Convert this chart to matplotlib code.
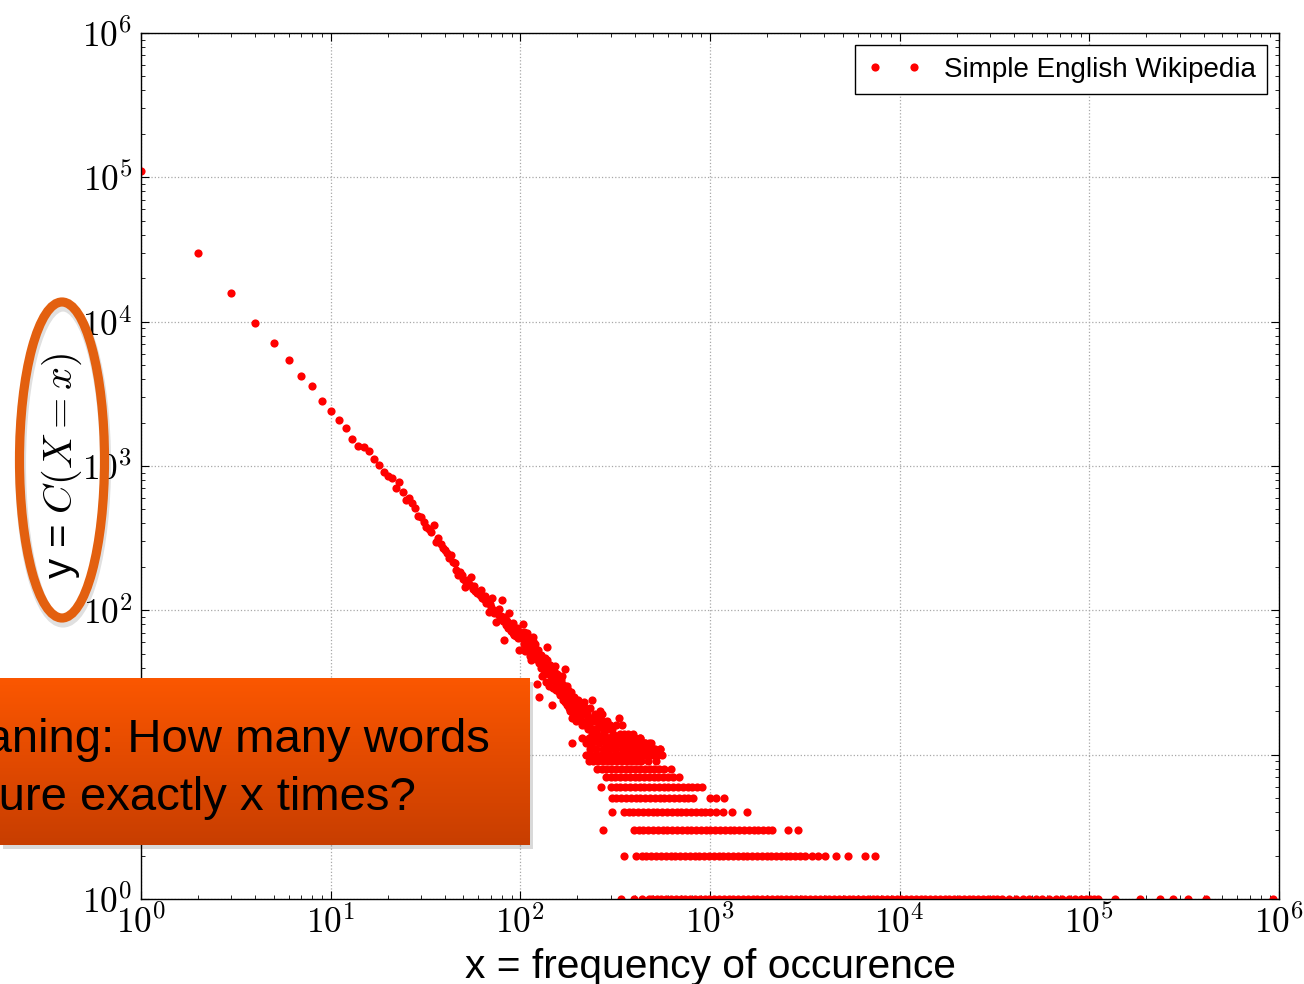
import numpy as np
import matplotlib
matplotlib.use('Agg')
import matplotlib.pyplot as plt
from matplotlib.patches import Ellipse, Rectangle
from matplotlib.ticker import FuncFormatter, LogLocator, NullFormatter
from matplotlib.colors import LinearSegmentedColormap

plt.rcParams['mathtext.fontset'] = 'cm'
plt.rcParams['font.family'] = ['Liberation Sans', 'DejaVu Sans']

# ---------------- data ----------------
# head: every x from 1 to 100, y = number of words occurring exactly x times
x_head = list(range(1, 101))
y_head = [110600, 30100, 15700, 9840, 7080, 5450, 4180, 3560, 2840, 2405,
          2096, 1845, 1540, 1370, 1350, 1265, 1113, 1010, 914, 853,
          822, 700, 779, 661, 581, 603, 557, 509, 453, 442,
          411, 380, 366, 347, 388, 299, 318, 290, 270, 262,
          248, 231, 240, 215, 212, 190, 177, 183, 176, 166,
          146, 158, 162, 150, 171, 141, 148, 137, 131, 135,
          128, 138, 122, 119, 126, 112, 117, 98, 111, 106,
          121, 101, 96, 83, 99, 94, 102, 88, 91, 118,
          85, 62, 90, 79, 84, 76, 96, 81, 72, 78,
          70, 82, 68, 73, 66, 75, 64, 53, 69, 71]

x_mid = list(range(101, 201))
y_mid = [64, 66, 80, 58, 71, 52, 55, 63, 70, 60,
         58, 48, 57, 45, 52, 65, 61, 49, 58, 54,
         46, 31, 50, 53, 43, 25, 47, 40, 49, 35,
         40, 44, 36, 41, 47, 38, 32, 56, 45, 39,
         30, 36, 38, 42, 35, 33, 22, 37, 29, 34,
         38, 33, 41, 28, 30, 36, 31, 35, 27, 29,
         32, 26, 33, 29, 35, 31, 24, 30, 27, 27,
         23, 30, 39, 28, 26, 22, 30, 28, 25, 21,
         24, 26, 20, 27, 23, 25, 12, 18, 21, 19,
         25, 22, 18, 24, 23, 20, 17, 21, 22, 19]

x_tail = [202, 204, 206, 208, 210, 212, 214, 216, 218, 220, 222, 224, 226, 228,
          231, 233, 235, 238, 240, 242, 245, 248, 250, 251, 255, 258, 260, 263,
          266, 270, 271, 274, 277, 280, 283, 286, 289, 292, 295, 298, 301, 305,
          308, 312, 315, 318, 322, 326, 330, 334, 338, 343, 346, 350, 355, 360,
          364, 368, 373, 375, 383, 388, 393, 398, 404, 410, 415, 421, 427, 437,
          440, 446, 452, 466, 478, 505, 548]
y_tail = [24, 18, 20, 17, 22, 16, 19, 23, 21, 16, 17, 20, 19, 15,
          16, 21, 18, 14, 24, 17, 15, 19, 17, 15, 14, 18, 16, 20,
          13, 19, 17, 15, 14, 16, 12, 17, 15, 13, 13, 16, 12, 15,
          14, 12, 11, 16, 13, 12, 18, 14, 12, 16, 11, 14, 13, 12,
          11, 14, 12, 13, 11, 13, 14, 12, 12, 11, 11, 12, 13, 11,
          11, 12, 12, 11, 12, 11, 11]

# bands: for small counts, the x values that have exactly that count
band_counts = [1, 2, 3, 4, 5, 6, 7, 8, 9, 10, 11, 12, 13]
band_x_1 = [339, 396, 436, 476, 493, 523, 554, 587, 622, 660, 700, 742, 786, 833,
            883, 936, 992, 1052, 1115, 1182, 1253, 1328, 1408, 1492, 1582, 1677,
            1777, 1884, 1997, 2117, 2244, 2378, 2521, 2672, 2833, 3003, 3183,
            3374, 3576, 3791, 4018, 4259, 4515, 4786, 5073, 5377, 5700, 6042,
            6404, 6789, 7196, 7628, 8085, 8570, 9085, 9630, 10208, 10820, 11469,
            12157, 12887, 13660, 14480, 15348, 16269, 17245, 18280, 19377,
            20540, 21772, 23078, 24463, 25931, 27487, 29136, 30884, 32737,
            34700, 37800, 41000, 44500, 48000, 52500, 56000, 61000, 67000,
            72000, 78000, 84000, 90000, 96000, 101000, 106000, 111000,
            137000, 185000, 236000, 276000, 331000, 412000, 927000]
band_x_2 = [351, 405, 436, 461, 490, 518, 551, 583, 620, 656, 697, 738, 782, 830,
            879, 932, 988, 1047, 1110, 1176, 1247, 1321, 1401, 1484, 1574, 1667,
            1768, 1873, 1986, 2104, 2231, 2364, 2506, 2656, 2816, 2984, 3163,
            3430, 3730, 4060, 4590, 5370, 6600, 7450]
band_x_3 = [272, 396, 420, 445, 472, 500, 530, 562, 596, 631, 669, 709, 752, 797,
            845, 895, 949, 1006, 1066, 1130, 1198, 1270, 1346, 1427, 1512, 1603,
            1699, 1801, 1909, 2023, 2110, 2590, 2920]
band_x_4 = [303, 351, 372, 395, 418, 443, 470, 498, 528, 560, 593, 629, 667, 707,
            749, 794, 842, 892, 946, 1003, 1070, 1170, 1310, 1560]
band_x_5 = [303, 321, 340, 361, 382, 405, 430, 455, 483, 512, 542, 575, 609, 646,
            685, 726, 770, 818, 995, 1070, 1190]
band_x_6 = [266, 300, 318, 337, 357, 379, 401, 426, 451, 478, 507, 537, 569, 604,
            640, 678, 719, 762, 808, 856, 902]
band_x_7 = [282, 299, 317, 336, 356, 377, 400, 424, 449, 476, 505, 535, 567, 601,
            637, 685]
band_x_8 = [253, 268, 284, 301, 319, 338, 359, 380, 403, 427, 453, 480, 509, 539,
            572, 621]
band_x_9 = [229, 243, 257, 273, 289, 306, 325, 344, 365, 387, 410, 435, 472, 520]
band_x_10 = [222, 236, 250, 265, 281, 298, 316, 335, 355, 376, 398, 422, 447,
             474, 502, 532, 558]
band_x_11 = [232, 251, 272, 295, 320, 346, 375, 406, 440, 476, 515, 548]
band_x_12 = [222, 240, 260, 282, 305, 330, 358, 388, 420, 455, 490]
band_x_13 = [212, 229, 248, 269, 291, 315, 341, 369, 400, 430]
band_x = [band_x_1, band_x_2, band_x_3, band_x_4, band_x_5, band_x_6, band_x_7,
          band_x_8, band_x_9, band_x_10, band_x_11, band_x_12, band_x_13]

x_ticks = [1e0, 1e1, 1e2, 1e3, 1e4, 1e5, 1e6]
y_ticks = [1e0, 1e1, 1e2, 1e3, 1e4, 1e5, 1e6]
series_label = 'Simple English Wikipedia'
x_label = 'x = frequency of occurence'
y_label = r'y = $C(X = x)$'
box_lines = ['Meaning: How many words', 'occure exactly x times?']

# ---------------- assemble ----------------
xs = list(x_head) + list(x_mid) + list(x_tail)
ys = list(y_head) + list(y_mid) + list(y_tail)
for c, bx in zip(band_counts, band_x):
    xs += bx
    ys += [c] * len(bx)

W, H = 1304, 984
fig = plt.figure(figsize=(W / 100, H / 100), dpi=100)
L, R, T, B = 141, 1279, 33, 899
ax = fig.add_axes([L / W, 1 - B / H, (R - L) / W, (B - T) / H])

ax.plot(xs, ys, 'o', color='#ff0000', ms=5.9, mew=0, ls='none',
        label=series_label)
ax.set_xscale('log')
ax.set_yscale('log')
ax.set_xlim(1, 1e6)
ax.set_ylim(1, 1e6)

fmt = FuncFormatter(lambda v, p: r'$10^{%d}$' % int(round(np.log10(v))))
for axis in (ax.xaxis, ax.yaxis):
    axis.set_major_locator(LogLocator(base=10, numticks=10))
    axis.set_minor_locator(LogLocator(base=10, subs=np.arange(2, 10), numticks=20))
    axis.set_major_formatter(fmt)
    axis.set_minor_formatter(NullFormatter())
ax.set_xticks(x_ticks)
ax.set_yticks(y_ticks)

ax.tick_params(which='both', direction='in', top=True, right=True, colors='black')
ax.tick_params(which='major', length=6, width=0.8, labelsize=25.5)
ax.tick_params(which='minor', length=3, width=0.6)
ax.tick_params(axis='y', pad=6)
ax.tick_params(axis='x', pad=4)
for s in ax.spines.values():
    s.set_color('black')
    s.set_linewidth(1.0)

ax.grid(True, which='major', ls=':', color='#a8a8a8', lw=0.9)

leg = ax.legend(loc='upper right', numpoints=2, fancybox=False, fontsize=20,
                framealpha=1, edgecolor='black', borderaxespad=0.45,
                handlelength=2.0, handletextpad=0.78, borderpad=0.4)
leg.get_frame().set_linewidth(1.0)

ax.set_xlabel(x_label, fontsize=29.3)
ax.xaxis.set_label_coords(0.5, (B - 978) / (B - T))
ax.xaxis.label.set_verticalalignment('baseline')

ax.set_ylabel(y_label, fontsize=29)
ax.yaxis.set_label_coords((62 - L) / (R - L), (B - 466) / (B - T))
ax.yaxis.label.set_verticalalignment('center')

# ---------------- orange ellipse annotation ----------------
ecx, ecy, ew, eh = 62, 460, 85, 316
shadow = Ellipse(((ecx + 1) / W, 1 - (ecy + 4) / H), ew / W, eh / H,
                 transform=fig.transFigure, fill=False, lw=8,
                 edgecolor=(0, 0, 0, 0.12), zorder=4)
fig.add_artist(shadow)
ell = Ellipse((ecx / W, 1 - ecy / H), ew / W, eh / H,
              transform=fig.transFigure, fill=False, lw=6.6,
              edgecolor='#e3600f', zorder=5)
fig.add_artist(ell)

# ---------------- orange callout box ----------------
bx0, bx1, by0, by1 = 0, 530, 678, 845
sh = Rectangle(((bx0 + 3) / W, 1 - (by1 + 4) / H), (bx1 - bx0) / W, (by1 - by0) / H,
               transform=fig.transFigure, color=(0, 0, 0, 0.15), lw=0, zorder=6)
fig.add_artist(sh)
axb = fig.add_axes([bx0 / W, 1 - by1 / H, (bx1 - bx0) / W, (by1 - by0) / H])
axb.set_zorder(7)
cmap = LinearSegmentedColormap.from_list('box', ['#fb5700', '#e24a00', '#c83e00'])
grad = np.linspace(0, 1, 256).reshape(-1, 1)
axb.imshow(grad, aspect='auto', cmap=cmap, extent=[0, 1, 0, 1], origin='upper')
axb.set_xlim(0, 1)
axb.set_ylim(0, 1)
axb.axis('off')
bw, bh = bx1 - bx0, by1 - by0
axb.text(-80 / bw, (by1 - 752) / bh, box_lines[0], fontsize=34, color='black',
         ha='left', va='baseline', transform=axb.transAxes, clip_on=False)
axb.text(-75 / bw, (by1 - 810) / bh, box_lines[1], fontsize=34, color='black',
         ha='left', va='baseline', transform=axb.transAxes, clip_on=False)

fig.savefig('out.png', dpi=100)
